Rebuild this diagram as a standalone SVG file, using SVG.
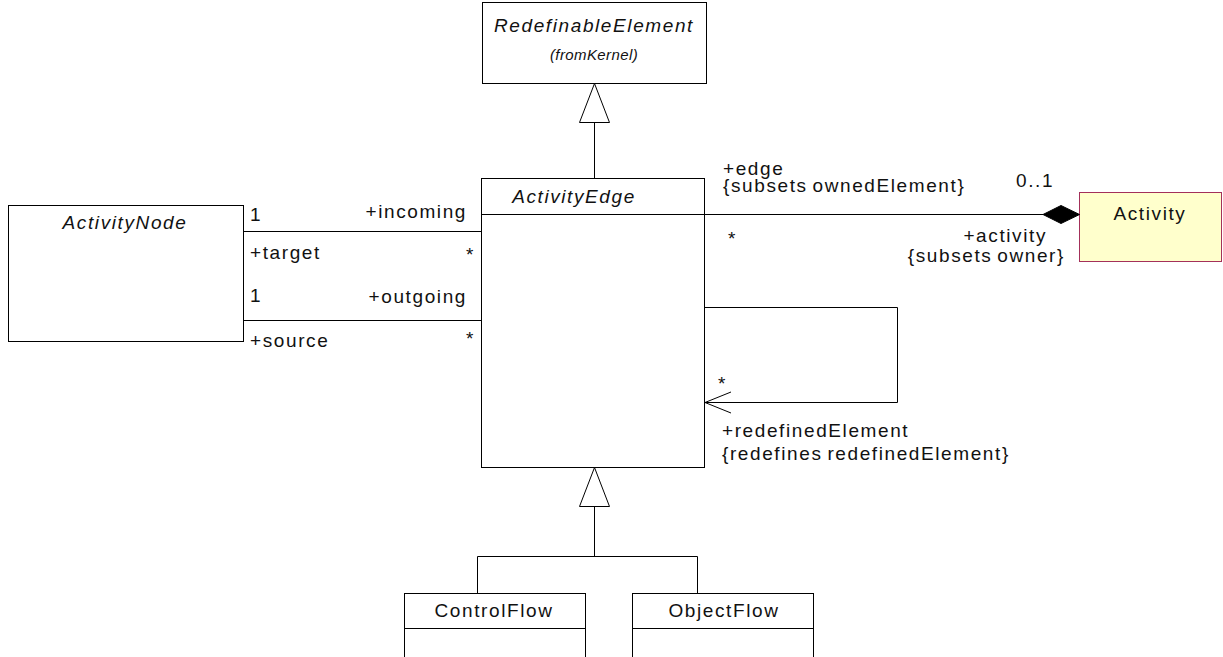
<svg xmlns="http://www.w3.org/2000/svg" width="1223" height="657" viewBox="0 0 1223 657">
<style>
  .box { fill: #ffffff; stroke: #000000; stroke-width: 1; }
  .ln { fill: none; stroke: #000000; stroke-width: 1; }
  text { font-family: "Liberation Sans", Arial, sans-serif; font-size: 19px; letter-spacing: 1.6px; word-spacing: -2px; fill: #111111; }
  .it { font-style: italic; }
  .sm { font-size: 15px; letter-spacing: 0.4px; }
  .mid { text-anchor: middle; }
  .end { text-anchor: end; }
</style>
<rect width="1223" height="657" fill="#ffffff"/>

<g id="RedefinableElement">
  <rect class="box" x="482.5" y="2.5" width="224" height="81"/>
  <text class="it mid" x="594" y="32">RedefinableElement</text>
  <text class="it sm mid" x="594" y="60">(fromKernel)</text>
</g>

<g id="ActivityEdge">
  <rect class="box" x="481.5" y="178.5" width="223" height="289"/>
  <line class="ln" x1="481.5" y1="214.5" x2="704.5" y2="214.5"/>
  <text class="it mid" x="574" y="203">ActivityEdge</text>
</g>

<g id="ActivityNode">
  <rect class="box" x="8.5" y="205.5" width="235" height="136"/>
  <text class="it mid" x="125" y="229">ActivityNode</text>
</g>

<g id="Activity">
  <rect x="1079.5" y="192.5" width="142" height="69" fill="#ffffcc" stroke="#a3305a" stroke-width="1"/>
  <text class="mid" x="1150" y="220">Activity</text>
</g>

<g id="ControlFlow">
  <rect class="box" x="404.5" y="593.5" width="181" height="80"/>
  <line class="ln" x1="404.5" y1="628.5" x2="585.5" y2="628.5"/>
  <text class="mid" x="494" y="617">ControlFlow</text>
</g>

<g id="ObjectFlow">
  <rect class="box" x="632.5" y="593.5" width="181" height="80"/>
  <line class="ln" x1="632.5" y1="628.5" x2="813.5" y2="628.5"/>
  <text class="mid" x="724" y="617">ObjectFlow</text>
</g>

<g id="connectors">
  <!-- generalization ActivityEdge -> RedefinableElement -->
  <polygon points="594.5,83.5 579.5,122.5 609.5,122.5" fill="#ffffff" stroke="#000000" stroke-width="1"/>
  <line class="ln" x1="594.5" y1="122.5" x2="594.5" y2="178.5"/>

  <!-- generalization ControlFlow/ObjectFlow -> ActivityEdge -->
  <polygon points="594.5,467.5 579.5,506.5 609.5,506.5" fill="#ffffff" stroke="#000000" stroke-width="1"/>
  <polyline class="ln" points="594.5,506.5 594.5,556.5"/>
  <polyline class="ln" points="477.5,593.5 477.5,556.5 697.5,556.5 697.5,593.5"/>

  <!-- incoming / target -->
  <line class="ln" x1="243.5" y1="231.5" x2="481.5" y2="231.5"/>
  <text x="250" y="221">1</text>
  <text class="end" x="467" y="218">+incoming</text>
  <text x="250" y="259">+target</text>
  <text class="end" x="475" y="261">*</text>

  <!-- outgoing / source -->
  <line class="ln" x1="243.5" y1="320.5" x2="481.5" y2="320.5"/>
  <text x="250" y="302">1</text>
  <text class="end" x="467" y="303">+outgoing</text>
  <text x="250" y="347">+source</text>
  <text class="end" x="475" y="345">*</text>

  <!-- composition edge / activity -->
  <line class="ln" x1="704.5" y1="214.5" x2="1043" y2="214.5"/>
  <polygon points="1043,214.5 1061,205.5 1079.5,214.5 1061,223.5" fill="#000000" stroke="#000000" stroke-width="1"/>
  <text x="723" y="175">+edge</text>
  <text x="723" y="192">{subsets ownedElement}</text>
  <text x="1016" y="187">0..1</text>
  <text x="728" y="245">*</text>
  <text class="end" x="1047" y="242">+activity</text>
  <text class="end" x="1065" y="262">{subsets owner}</text>

  <!-- self association redefinedElement -->
  <polyline class="ln" points="704.5,307.5 897.5,307.5 897.5,402.5 705,402.5"/>
  <polyline class="ln" points="731,392 705,402.5 731,413"/>
  <text x="718" y="390">*</text>
  <text x="722" y="437">+redefinedElement</text>
  <text x="722" y="460">{redefines redefinedElement}</text>
</g>
</svg>
